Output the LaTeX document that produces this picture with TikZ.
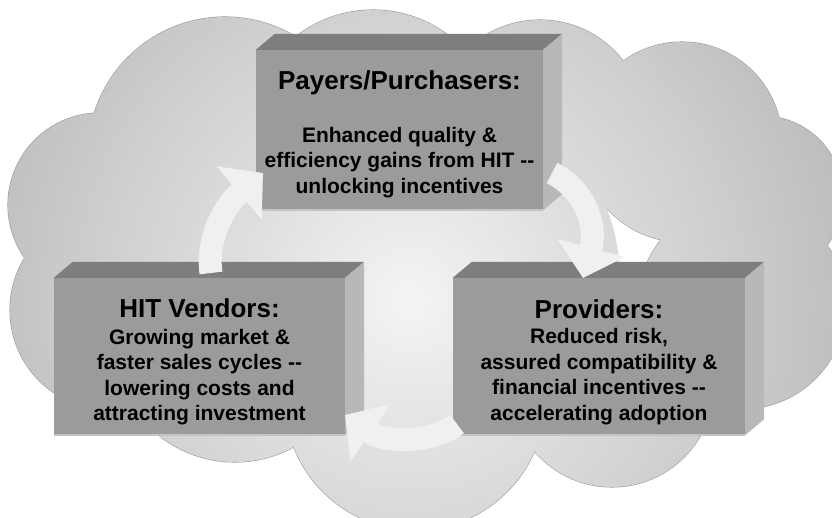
\documentclass[tikz,border=0pt]{standalone}
\usepackage{fontspec}
\setmainfont{Liberation Sans}
\usepackage{tikz}
\usetikzlibrary{arrows.meta}
\usetikzlibrary{calc}

\definecolor{glowA}{HTML}{F4F4F4}
\definecolor{glowB}{HTML}{E0E0E0}
\definecolor{glowC}{HTML}{D0D0D0}
\definecolor{glowD}{HTML}{BEBEBE}
\definecolor{glowE}{HTML}{AAAAAA}
\definecolor{glowF}{HTML}{A6A6A6}
\pgfdeclareradialshading{cloudglow}{\pgfpoint{0bp}{0bp}}{color(0bp)=(glowA); color(8bp)=(glowB);
  color(15bp)=(glowC); color(22bp)=(glowD); color(35bp)=(glowE); color(50bp)=(glowF)}
\definecolor{cloudedge}{HTML}{999999}
\definecolor{slabfront}{HTML}{9B9B9B}
\definecolor{slabtop}{HTML}{7E7E7E}
\definecolor{slabside}{HTML}{B8B8B8}
\definecolor{slabrim}{HTML}{C4C4C4}
\definecolor{cycgray}{HTML}{F0F0F0}

\begin{document}
\begin{tikzpicture}[x=1pt,y=1pt,yscale=-1,
  slab/.style={fill=slabfront, inner sep=0pt, align=center, text=black,
    font=\fontsize{21}{25.5}\selectfont\bfseries},
  cyc/.style={draw=cycgray, line width=23pt, -{Triangle[length=31pt,width=68pt]}}]
\useasboundingbox (0,0) rectangle (832,518);

%Shape: Cloud
\begin{scope}
\clip (0,0) rectangle (832,518);
\draw[cloudedge, line width=1.1pt] (100,205) circle (92) (225,154) circle (137) (373,135) circle (125)
  (540,125) circle (105) (682,142) circle (100) (762,197) circle (81) (742,305) circle (104)
  (612,385) circle (102) (415,400) circle (130) (235,340) circle (122) (110,310) circle (100);
\clip (100,205) circle (92) (225,154) circle (137) (373,135) circle (125)
  (540,125) circle (105) (682,142) circle (100) (762,197) circle (81) (742,305) circle (104)
  (612,385) circle (102) (415,400) circle (130) (235,340) circle (122) (110,310) circle (100)
  (420,280) circle (200);
\shade[shading=cloudglow] (410,300) circle (500);
\end{scope}

% Text Node: payers
\node[slab, minimum width=287pt, minimum height=160pt] (pay) at (399.5,130)
  {{\fontsize{26}{30}\selectfont\rule{0pt}{27pt}Payers/Purchasers:}\\[27.5pt]
   Enhanced quality \&\\ efficiency gains from HIT -{}-\\ unlocking incentives};
\fill[slabtop] (pay.north west) -- ($(pay.north west)+(19,-16)$) -- ($(pay.north east)+(19,-16)$) -- (pay.north east) -- cycle;
\fill[slabside] (pay.north east) -- ($(pay.north east)+(19,-16)$) -- ($(pay.south east)+(19,-16)$) -- (pay.south east) -- cycle;
\draw[slabrim, line width=1.5pt] (pay.south west) -- (pay.south east);

% Text Node: vendors
\node[slab, minimum width=291pt, minimum height=157pt] (vend) at (199.5,356.5)
  {{\fontsize{26}{30}\selectfont\rule{0pt}{29pt}HIT Vendors:}\\[1.5pt]
   Growing market \&\\ faster sales cycles -{}-\\ lowering costs and\\ attracting investment};
\fill[slabtop] (vend.north west) -- ($(vend.north west)+(19,-16)$) -- ($(vend.north east)+(19,-16)$) -- (vend.north east) -- cycle;
\fill[slabside] (vend.north east) -- ($(vend.north east)+(19,-16)$) -- ($(vend.south east)+(19,-16)$) -- (vend.south east) -- cycle;
\draw[slabrim, line width=1.5pt] (vend.south west) -- (vend.south east);

% Text Node: providers
\node[slab, minimum width=292pt, minimum height=157pt] (prov) at (599,356.5)
  {{\fontsize{26}{30}\selectfont\rule{0pt}{30pt}Providers:}\\
   Reduced risk,\\ assured compatibility \&\\ financial incentives -{}-\\ accelerating adoption};
\fill[slabtop] (prov.north west) -- ($(prov.north west)+(19,-16)$) -- ($(prov.north east)+(19,-16)$) -- (prov.north east) -- cycle;
\fill[slabside] (prov.north east) -- ($(prov.north east)+(19,-16)$) -- ($(prov.south east)+(19,-16)$) -- (prov.south east) -- cycle;
\draw[slabrim, line width=1.5pt] (prov.south west) -- (prov.south east);

%Curve Lines: cycle arrows
\coordinate (vp1) at (211,273);
\coordinate (vp2) at (263,173);
\coordinate (pp1) at (552,173);
\coordinate (pp2) at (583,278);
\coordinate (pv1) at (457,424);
\coordinate (pv2) at (345,415);
\draw[cyc] (vp1) .. controls (206,238) and (225,205) .. (vp2);
\draw[cyc] (pp1) .. controls (582,188) and (598,222) .. (pp2);
\draw[cyc] (pv1) .. controls (437,441) and (388,445) .. (pv2);

\end{tikzpicture}
\end{document}
